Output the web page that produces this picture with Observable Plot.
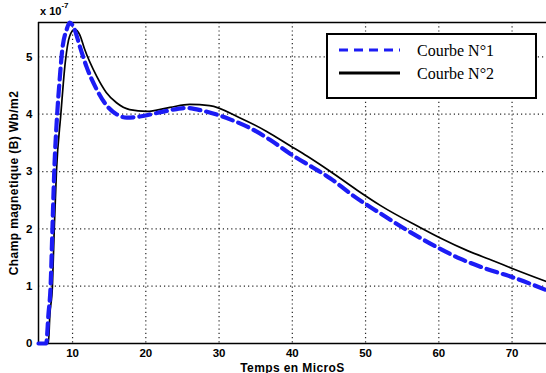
<!DOCTYPE html>
<html><head><meta charset="utf-8">
<script src="https://cdn.jsdelivr.net/npm/d3@7"></script>
<script src="https://cdn.jsdelivr.net/npm/@observablehq/plot@0.6"></script>
<style>
body{margin:0;background:#fff}
#wrap{position:relative;width:546px;height:373px;overflow:hidden}
#exp{position:absolute;left:40px;top:3px;font:bold 11px "Liberation Sans",Arial,sans-serif;color:#000}
#exp sup{font-size:8px;position:relative;top:-2px}
#legend{position:absolute;left:326px;top:33px}
</style>
</head><body><div id="wrap"></div>
<script>
const xTicks = [10, 20, 30, 40, 50, 60, 70];
const yTicks = [0, 1, 2, 3, 4, 5];
const seriesNames = ["Courbe N°1", "Courbe N°2"];

const t1 = [5.35, 6.4, 6.7, 7.0, 7.25, 7.5, 7.9, 8.2, 8.6, 9.2, 9.6, 10.2, 11.0, 11.9, 13.3, 14.6, 16.0, 17.4, 19.2, 21.5, 24.2, 25.5, 27.8, 31.5, 34.2, 37.0, 39.7, 42.8, 45.2, 48.3, 52.0, 55.1, 57.9, 60.2, 62.9, 66.1, 70.2, 74.7];
const b1 = [0, 0, 0.5, 1.0, 2.0, 3.0, 4.0, 4.54, 5.13, 5.48, 5.6, 5.5, 5.18, 4.83, 4.43, 4.16, 4.0, 3.94, 3.96, 4.02, 4.09, 4.11, 4.06, 3.91, 3.76, 3.55, 3.31, 3.07, 2.88, 2.58, 2.27, 2.02, 1.81, 1.65, 1.48, 1.32, 1.15, 0.93];

const t2 = [5.35, 6.7, 6.9, 7.25, 7.5, 7.8, 8.4, 9.0, 9.6, 10.3, 11.0, 11.6, 13.3, 14.6, 16.0, 17.8, 20.1, 23.3, 26.0, 28.7, 32.8, 36.5, 39.7, 42.0, 45.2, 48.9, 52.0, 57.5, 60.2, 63.9, 67.5, 70.2, 74.7];
const b2 = [0, 0, 0.5, 1.0, 2.0, 3.0, 4.0, 4.9, 5.36, 5.48, 5.38, 5.15, 4.66, 4.38, 4.20, 4.08, 4.05, 4.12, 4.17, 4.15, 3.94, 3.70, 3.45, 3.27, 3.0, 2.67, 2.41, 2.02, 1.84, 1.62, 1.44, 1.30, 1.08];

const d1 = t1.map((t, i) => ({t, b: b1[i]}));
const d2 = t2.map((t, i) => ({t, b: b2[i]}));
const xDom = [5.35, 74.7];
const yDom = [0, 5.6];
const font = '"Liberation Sans", Arial, sans-serif';

const chart = Plot.plot({
  width: 546, height: 373,
  marginLeft: 38, marginRight: 0, marginTop: 22, marginBottom: 30,
  style: {fontFamily: font, background: "#fff", color: "#000"},
  x: {domain: xDom},
  y: {domain: yDom},
  marks: [
    Plot.gridX(xTicks, {stroke: "#000", strokeOpacity: 0.85, strokeDasharray: "1.2,3", strokeWidth: 1.2}),
    Plot.gridY(yTicks, {stroke: "#000", strokeOpacity: 0.85, strokeDasharray: "1.2,3", strokeWidth: 1.2}),
    Plot.ruleY([yDom[0]], {stroke: "#000", strokeWidth: 1.5}),
    Plot.ruleY([yDom[1]], {stroke: "#000", strokeWidth: 1.5}),
    Plot.ruleX([xDom[0]], {stroke: "#000", strokeWidth: 1.5}),
    Plot.line(d2, {x: "t", y: "b", stroke: "#000", strokeWidth: 1.7, curve: "monotone-x"}),
    Plot.line(d1, {x: "t", y: "b", stroke: "#1c1cf5", strokeWidth: 4.2, strokeDasharray: "11,6", curve: "monotone-x"}),
    Plot.axisX(xTicks, {tickSize: 0, tickPadding: 5, fontWeight: "bold", fontSize: 11.5, tickFormat: d => String(d),
      label: "Temps en MicroS", labelAnchor: "center", labelArrow: "none", labelOffset: 28}),
    Plot.axisY(yTicks, {tickSize: 0, tickPadding: 6, fontWeight: "bold", fontSize: 11.5, tickFormat: d => String(d),
      label: "Champ magnetique (B) Wb/m2", labelAnchor: "center", labelArrow: "none", labelOffset: 29})
  ]
});
chart.querySelectorAll("g[aria-label='x-axis label'] text, g[aria-label='y-axis label'] text").forEach(el => {
  el.setAttribute("font-weight", "bold");
});
const ylab = chart.querySelector("g[aria-label='y-axis label'] text");
if (ylab) { ylab.setAttribute("font-size", "12"); ylab.setAttribute("letter-spacing", "0.4"); }
const xlab = chart.querySelector("g[aria-label='x-axis label'] text");
if (xlab) { xlab.setAttribute("font-size", "12"); xlab.setAttribute("letter-spacing", "0.4"); }

const wrap = document.getElementById("wrap");
wrap.appendChild(chart);

const exp = document.createElement("div");
exp.id = "exp";
exp.innerHTML = "x 10<sup>-7</sup>";
wrap.appendChild(exp);

const ns = "http://www.w3.org/2000/svg";
const leg = document.createElementNS(ns, "svg");
leg.setAttribute("id", "legend");
leg.setAttribute("width", 212);
leg.setAttribute("height", 67);
leg.innerHTML = `
<rect x="1" y="1" width="209" height="64" fill="#fff" stroke="#000" stroke-width="2"/>
<line x1="13" x2="74" y1="17" y2="17" stroke="#1c1cf5" stroke-width="3" stroke-dasharray="9,6"/>
<line x1="13" x2="74" y1="40" y2="40" stroke="#000" stroke-width="3"/>
<text x="91" y="23" font-family="'Liberation Serif','Times New Roman',serif" font-size="16">${seriesNames[0]}</text>
<text x="91" y="46" font-family="'Liberation Serif','Times New Roman',serif" font-size="16">${seriesNames[1]}</text>`;
wrap.appendChild(leg);
</script>
</body></html>
